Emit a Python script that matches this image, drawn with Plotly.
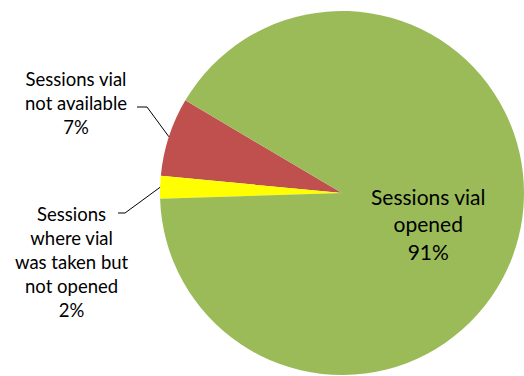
import math
import plotly.graph_objects as go

# Slice data (counter-clockwise from the red/green boundary)
labels = [
    "Sessions vial not available",
    "Sessions where vial was taken but not opened",
    "Sessions vial opened",
]
label_lines = [
    ["Sessions vial", "not available"],
    ["Sessions", "where vial", "was taken but", "not opened"],
    ["Sessions vial", "opened"],
]
values = [7, 2, 91]
colors = ["#C0504D", "#FFFF00", "#9BBB59"]

W, H = 524, 376
FONT = "Lato, 'Open Sans', sans-serif"
start_angle = -59.4          # red/green boundary, degrees clockwise from 12 o'clock
dom_x = [160 / W, 1.0]
dom_y = [0.0, 1.0 - 10 / H]

total = sum(values)
pct = [f"{round(v / total * 100):d}%" for v in values]
texts = ["<br>".join(lines + [p]) for lines, p in zip(label_lines, pct)]

# For counter-clockwise pies plotly's rotation marks the far edge of the first slice
rotation = start_angle - values[0] / total * 360

fig = go.Figure(
    go.Pie(
        labels=labels,
        values=values,
        sort=False,
        direction="counterclockwise",
        rotation=rotation,
        marker=dict(colors=colors, line=dict(width=0)),
        textinfo="none",
        hoverinfo="label+percent",
        showlegend=False,
        domain=dict(x=dom_x, y=dom_y),
    )
)

# Pie geometry in pixels (same rule plotly uses: radius = half the smaller side)
px0, px1 = dom_x[0] * W, dom_x[1] * W
py_top, py_bot = (1 - dom_y[1]) * H, (1 - dom_y[0]) * H
cx, cy = (px0 + px1) / 2, (py_top + py_bot) / 2
r = min(px1 - px0, py_bot - py_top) / 2


def to_paper(x, y):
    return x / W, 1 - y / H


def slice_edge_point(i):
    cum = sum(values[:i]) + values[i] / 2
    a = math.radians(start_angle - cum / total * 360)
    return cx + r * math.sin(a), cy - r * math.cos(a)


# Leader lines: short horizontal stub next to each label, then to the slice rim
stubs = {0: ((137, 107), (147, 107)), 1: ((118, 213), (125, 213))}
shapes = []
for i, (p0, p1) in stubs.items():
    p2 = slice_edge_point(i)
    pts = [to_paper(*p0), to_paper(*p1), to_paper(*p2)]
    path = "M {} {} L {} {} L {} {}".format(*pts[0], *pts[1], *pts[2])
    shapes.append(dict(type="path", path=path, xref="paper", yref="paper",
                       line=dict(color="black", width=1)))

label_pos = {0: (76, 103, 18.5), 1: (72, 262, 18.5), 2: (428, 224, 21)}
annotations = []
for i, (x, y, size) in label_pos.items():
    ax, ay = to_paper(x, y)
    annotations.append(dict(
        text=texts[i], x=ax, y=ay, xref="paper", yref="paper",
        xanchor="center", yanchor="middle", showarrow=False, align="center",
        font=dict(family=FONT, size=size, color="black"),
    ))

fig.update_layout(
    width=W, height=H,
    margin=dict(l=0, r=0, t=0, b=0),
    paper_bgcolor="white",
    plot_bgcolor="white",
    shapes=shapes,
    annotations=annotations,
)

fig.write_html("out.html")
